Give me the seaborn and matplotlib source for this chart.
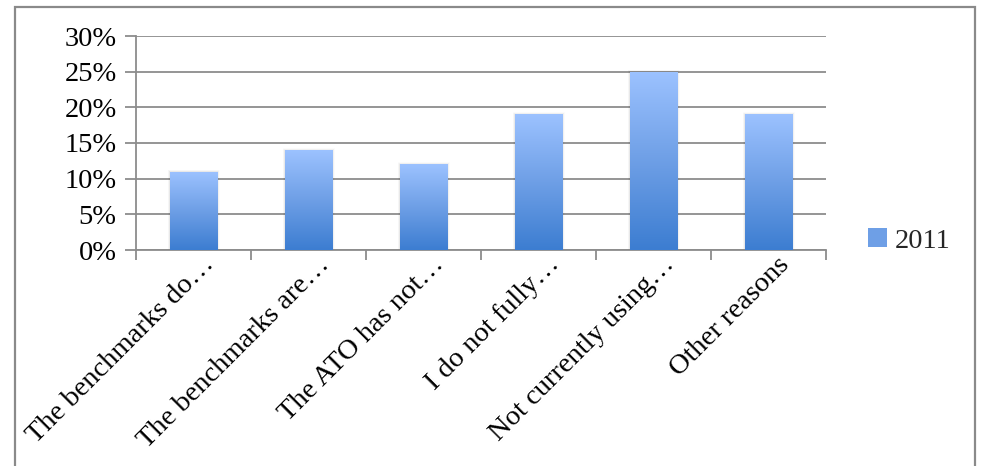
import matplotlib
matplotlib.use("Agg")
import matplotlib.pyplot as plt
import matplotlib.transforms as mtransforms
import seaborn as sns
import numpy as np
import pandas as pd
from matplotlib.patches import Rectangle, Patch
from matplotlib.colors import LinearSegmentedColormap
from matplotlib.ticker import PercentFormatter, FixedLocator

categories = ["The benchmarks do…", "The benchmarks are…", "The ATO has not…",
              "I do not fully…", "Not currently using…", "Other reasons"]
values = [0.11, 0.14, 0.12, 0.19, 0.25, 0.19]
series_name = "2011"
yticks = [0.0, 0.05, 0.10, 0.15, 0.20, 0.25, 0.30]

sns.set_theme(style="white")
plt.rcParams["font.family"] = ["Liberation Serif", "DejaVu Serif"]

fig = plt.figure(figsize=(9.82, 4.66), dpi=100)
ax = fig.add_axes([136 / 982, 1 - 250 / 466, 690 / 982, 214 / 466])

df = pd.DataFrame({"category": categories, "value": values})
sns.barplot(data=df, x="category", y="value", ax=ax, width=0.415,
            color="#6F9FE8", saturation=1, zorder=3)

grid_c = "#8c8c8c"
ax.set_ylim(0, 0.30)
ax.set_xlim(-0.5, len(categories) - 0.5)
ax.set_yticks(yticks)
ax.yaxis.set_major_formatter(PercentFormatter(1.0, decimals=0))
ax.grid(axis="y", color=grid_c, lw=1.3)
ax.set_axisbelow(True)
ax.set_xlabel("")
ax.set_ylabel("")
for s in ["top", "right"]:
    ax.spines[s].set_visible(False)
for s in ["left", "bottom"]:
    ax.spines[s].set_color(grid_c)
    ax.spines[s].set_linewidth(1.3)

ax.tick_params(axis="y", which="major", length=8, width=1.3, color=grid_c,
               labelsize=20.5, pad=6, left=True, labelcolor="black")
ax.tick_params(axis="x", which="major", length=0, labelsize=20.5, pad=2,
               labelcolor="black")
ax.xaxis.set_minor_locator(FixedLocator(np.arange(-0.5, len(categories), 1.0)))
ax.tick_params(axis="x", which="minor", length=7, width=1.3, color=grid_c,
               bottom=True, direction="out")

offset = mtransforms.ScaledTranslation(17 / 100, -8 / 100, fig.dpi_scale_trans)
for lbl in ax.get_xticklabels():
    lbl.set_rotation(45)
    lbl.set_ha("right")
    lbl.set_va("center")
    lbl.set_rotation_mode("anchor")
    lbl.set_transform(lbl.get_transform() + offset)

# gradient fill for bars
cmap = LinearSegmentedColormap.from_list("grad", ["#3C7DD1", "#6E9FE6", "#9CC2FF"])
grad = np.linspace(0, 1, 256).reshape(-1, 1)
for p in list(ax.patches):
    x, y, w, h = p.get_x(), p.get_y(), p.get_width(), p.get_height()
    # soft shadow
    for k, a in [(4, 0.015), (3, 0.02), (2, 0.025), (1, 0.03)]:
        dx = k * 6 / 690 / 2
        dy = k * 0.30 / 214 / 2
        sh = Rectangle((x - dx + 0.002, y), w + 2 * dx, h + dy, facecolor="black",
                       edgecolor="none", alpha=a, zorder=2.5)
        ax.add_patch(sh)
    im = ax.imshow(grad, extent=[x, x + w, y, y + h], aspect="auto", cmap=cmap,
                   origin="lower", zorder=3, interpolation="bilinear")
    im.set_clip_path(p)
    p.set_facecolor("none")
    p.set_edgecolor("none")
ax.set_xlim(-0.5, len(categories) - 0.5)
ax.set_ylim(0, 0.30)

fig.legend(handles=[Patch(facecolor="#6E9FE6", edgecolor="none")], labels=[series_name],
           loc="center left", bbox_to_anchor=(868 / 982, 1 - 241 / 466),
           frameon=False, fontsize=20.5, handlelength=0.65, handleheight=0.65,
           handletextpad=0.3, borderpad=0, borderaxespad=0)

border = Rectangle((15 / 982, -0.05), 960 / 982, (466 - 7) / 466 + 0.05,
                   transform=fig.transFigure, fill=False, edgecolor="#8a8a8a",
                   lw=1.6, clip_on=False)
fig.patches.append(border)

fig.savefig("out.png", dpi=100)
